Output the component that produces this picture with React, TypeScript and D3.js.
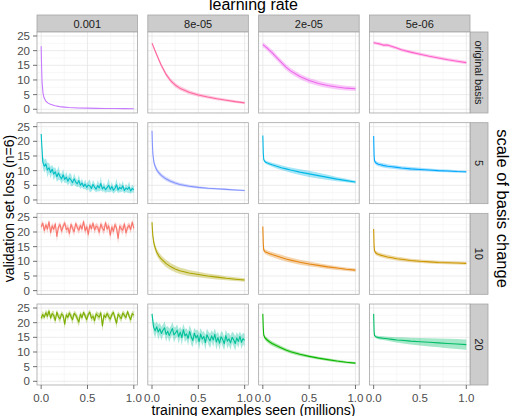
import * as d3 from 'd3';
import React from 'react';

// facet labels
const LEARNING_RATES = ['0.001', '8e-05', '2e-05', '5e-06'];
const BASIS_SCALES = ['original basis', '5', '10', '20'];
const X_TICKS = [0, 0.5, 1];
const Y_TICKS = [0, 5, 10, 15, 20, 25];

// ggplot hue palette, one colour per facet (row-major)
const COLORS = [
  ['#C77CFF', '#FF68A1', '#ED68ED', '#FF61CC'],
  ['#00BFC4', '#8494FF', '#00B8E7', '#00A9FF'],
  ['#F8766D', '#ABA300', '#E68613', '#CD9600'],
  ['#7CAE00', '#00C19A', '#0CB702', '#00BE67'],
];

// x positions (millions of examples) for the smooth curves
const SMOOTH_X = [0, 0.005, 0.01, 0.02, 0.03, 0.05, 0.075, 0.1, 0.15, 0.2, 0.25, 0.3, 0.4, 0.5, 0.6, 0.7, 0.8, 0.9, 1.0];

// original basis
const ORIG_001 = [21.5, 14, 9, 5.5, 4.0, 2.8, 2.1, 1.7, 1.2, 0.9, 0.75, 0.6, 0.45, 0.38, 0.32, 0.28, 0.25, 0.22, 0.2];
const ORIG_001_SD = [0.3, 0.4, 0.4, 0.3, 0.25, 0.2, 0.15, 0.12, 0.1, 0.08, 0.08, 0.07, 0.06, 0.06, 0.05, 0.05, 0.05, 0.05, 0.05];
const ORIG_8E05 = [22.5, 22.2, 21.8, 21.0, 20.2, 18.7, 16.8, 15.0, 12.0, 9.8, 8.3, 7.2, 5.8, 4.9, 4.2, 3.6, 3.1, 2.6, 2.2];
const ORIG_8E05_SD = [0.4, 0.4, 0.45, 0.5, 0.5, 0.55, 0.6, 0.65, 0.7, 0.75, 0.75, 0.7, 0.65, 0.6, 0.55, 0.5, 0.45, 0.45, 0.4];
const ORIG_2E05 = [22.0, 21.9, 21.8, 21.6, 21.3, 20.8, 20.0, 19.3, 17.6, 16.0, 14.4, 13.1, 11.2, 9.8, 8.8, 8.1, 7.6, 7.2, 7.0];
const ORIG_2E05_SD = [0.8, 0.8, 0.8, 0.85, 0.9, 0.9, 0.95, 1.0, 1.0, 1.0, 1.0, 1.0, 0.95, 0.9, 0.9, 0.85, 0.85, 0.8, 0.8];
const ORIG_5E06 = [22.7, 22.7, 22.6, 22.6, 22.5, 22.4, 22.2, 21.9, 21.9, 21.4, 20.9, 20.3, 19.5, 18.8, 18.1, 17.5, 16.9, 16.4, 15.9];
const ORIG_5E06_SD = [0.5, 0.5, 0.5, 0.5, 0.5, 0.55, 0.55, 0.55, 0.55, 0.55, 0.55, 0.55, 0.55, 0.55, 0.55, 0.55, 0.55, 0.55, 0.55];

// scale 5
const S5_001 = [22.5, 13.0, 11.5, 12.3, 10.2, 11.0, 9.4, 10.5, 8.8, 9.6, 7.9, 9.2, 8.0, 7.2, 8.6, 7.0, 7.8, 6.4, 7.5, 6.8, 5.9, 7.2, 6.1, 5.5, 6.6, 5.0, 5.8, 4.6, 5.4, 4.3, 5.1, 4.8, 3.9, 5.3, 4.4, 3.7, 4.9, 4.1, 5.6, 3.8, 4.5, 3.5, 4.2, 5.0, 3.6, 4.6, 3.3, 4.0, 5.2, 3.4, 4.3, 3.8, 4.8, 3.2, 4.1, 3.6, 4.4, 3.1, 3.9, 3.5];
const S5_001_SD = [0.5, 2.0, 2.2, 1.8, 2.5, 1.6, 2.0, 1.4, 2.2, 1.5, 1.8, 2.4, 1.3, 1.7, 2.0, 1.2, 1.9, 1.5, 1.6, 2.1, 1.1, 1.8, 1.4, 1.2, 2.0, 1.3, 1.5, 1.0, 1.7, 1.2, 1.4, 2.2, 1.0, 1.6, 1.3, 1.1, 1.9, 1.2, 2.3, 1.0, 1.5, 1.1, 1.4, 2.4, 1.0, 1.6, 1.2, 1.3, 2.1, 1.0, 1.7, 1.2, 1.8, 1.0, 1.4, 1.1, 2.0, 1.0, 1.3, 1.1];
const S5_8E05 = [23.6, 18.5, 15.5, 13.0, 11.8, 10.3, 9.2, 8.4, 7.2, 6.4, 5.8, 5.3, 4.7, 4.3, 4.0, 3.8, 3.6, 3.4, 3.2];
const S5_8E05_SD = [0.3, 0.8, 1.0, 1.0, 0.9, 0.85, 0.8, 0.75, 0.7, 0.65, 0.6, 0.55, 0.45, 0.4, 0.35, 0.3, 0.3, 0.25, 0.25];
const S5_2E05 = [22.0, 16, 13.8, 13.2, 12.9, 12.6, 12.3, 12.0, 11.5, 11.0, 10.6, 10.2, 9.5, 8.9, 8.3, 7.7, 7.1, 6.6, 6.1];
const S5_2E05_SD = [0.3, 0.5, 0.5, 0.5, 0.55, 0.6, 0.65, 0.7, 0.75, 0.8, 0.85, 0.9, 1.0, 1.05, 1.0, 0.9, 0.75, 0.6, 0.45];
const S5_5E06 = [21.8, 15, 13.3, 12.8, 12.5, 12.2, 12.0, 11.8, 11.5, 11.3, 11.1, 10.9, 10.6, 10.4, 10.2, 10.0, 9.9, 9.7, 9.6];
const S5_5E06_SD = [0.3, 0.6, 0.7, 0.7, 0.7, 0.7, 0.7, 0.7, 0.7, 0.65, 0.65, 0.6, 0.6, 0.55, 0.5, 0.5, 0.45, 0.45, 0.4];

// scale 10
const S10_001 = [21.8, 23.0, 20.5, 22.4, 21.0, 23.5, 19.8, 22.1, 20.9, 22.8, 18.5, 21.7, 22.5, 20.3, 21.9, 23.1, 20.8, 21.4, 19.5, 22.6, 21.2, 20.1, 22.9, 21.5, 20.6, 22.2, 21.0, 23.6, 20.4, 21.8, 19.2, 22.4, 21.1, 23.0, 20.7, 22.0, 21.6, 19.9, 22.7, 21.3, 20.5, 23.2, 21.0, 22.1, 18.9, 21.7, 20.2, 22.5, 21.4, 17.8, 22.0, 21.1, 20.6, 22.8, 19.7, 21.5, 22.3, 20.8, 23.4, 21.2];
const S10_001_SD = [1.2, 0.9, 1.5, 1.0, 1.4, 0.8, 1.6, 1.1, 1.3, 0.9, 1.8, 1.2, 1.0, 1.5, 1.1, 0.9, 1.4, 1.2, 1.7, 1.0, 1.3, 1.5, 0.9, 1.2, 1.4, 1.0, 1.3, 0.8, 1.6, 1.1, 1.8, 1.0, 1.3, 0.9, 1.5, 1.1, 1.2, 1.6, 1.0, 1.3, 1.5, 0.9, 1.4, 1.1, 1.9, 1.2, 1.5, 1.0, 1.3, 2.0, 1.1, 1.3, 1.5, 0.9, 1.7, 1.2, 1.0, 1.4, 0.9, 1.2];
const S10_8E05 = [23.3, 20.5, 18.5, 16.3, 15.0, 13.2, 11.8, 10.8, 9.3, 8.2, 7.4, 6.8, 6.0, 5.5, 5.0, 4.6, 4.2, 3.9, 3.6];
const S10_8E05_SD = [0.4, 0.8, 1.0, 1.1, 1.2, 1.2, 1.2, 1.2, 1.2, 1.2, 1.15, 1.1, 1.0, 0.95, 0.85, 0.8, 0.7, 0.65, 0.6];
const S10_2E05 = [21.9, 16, 13.9, 13.4, 13.2, 12.9, 12.6, 12.3, 11.8, 11.3, 10.8, 10.4, 9.7, 9.1, 8.6, 8.1, 7.7, 7.3, 7.0];
const S10_2E05_SD = [0.3, 0.6, 0.7, 0.75, 0.8, 0.8, 0.85, 0.85, 0.9, 0.9, 0.9, 0.9, 0.85, 0.8, 0.75, 0.7, 0.65, 0.6, 0.55];
const S10_5E06 = [21.0, 15, 13.5, 13.0, 12.7, 12.4, 12.1, 11.9, 11.5, 11.2, 10.9, 10.7, 10.3, 10.0, 9.8, 9.6, 9.5, 9.4, 9.3];
const S10_5E06_SD = [0.3, 0.6, 0.7, 0.7, 0.7, 0.7, 0.7, 0.7, 0.7, 0.7, 0.65, 0.65, 0.6, 0.6, 0.55, 0.55, 0.5, 0.5, 0.5];

// scale 20
const S20_001 = [21.5, 22.8, 21.9, 23.4, 22.2, 24.0, 21.6, 23.1, 22.5, 20.8, 23.6, 22.0, 21.3, 23.0, 22.4, 19.5, 22.7, 21.8, 23.3, 22.1, 21.0, 23.2, 22.6, 21.4, 20.2, 22.9, 21.7, 23.5, 22.3, 21.1, 22.8, 23.6, 21.5, 22.2, 20.7, 23.0, 22.4, 21.9, 23.4, 18.9, 22.6, 21.8, 23.1, 22.0, 21.2, 22.7, 23.5, 21.6, 19.8, 22.9, 22.1, 21.4, 23.3, 22.5, 21.7, 23.8, 22.2, 21.0, 23.1, 22.6];
const S20_001_SD = [1.0, 1.3, 0.9, 1.1, 1.4, 0.8, 1.2, 1.0, 1.5, 1.3, 0.9, 1.2, 1.4, 1.0, 1.1, 1.7, 0.9, 1.3, 1.0, 1.2, 1.5, 0.9, 1.1, 1.3, 1.6, 1.0, 1.2, 0.8, 1.1, 1.4, 1.0, 0.9, 1.3, 1.1, 1.5, 1.0, 1.2, 1.3, 0.9, 1.9, 1.1, 1.2, 1.0, 1.3, 1.4, 1.0, 0.9, 1.2, 1.7, 1.0, 1.1, 1.3, 0.9, 1.2, 1.0, 0.8, 1.1, 1.4, 1.0, 1.1];
const S20_8E05 = [23.0, 18.5, 17.2, 18.6, 16.8, 17.9, 16.3, 17.5, 18.2, 16.0, 17.1, 15.6, 16.9, 18.0, 15.8, 16.5, 17.4, 15.2, 16.8, 14.9, 17.6, 15.5, 16.2, 14.6, 17.0, 15.1, 13.9, 16.4, 14.8, 15.7, 13.5, 16.1, 14.4, 15.3, 13.2, 15.9, 14.7, 13.8, 15.5, 14.1, 16.0, 13.4, 14.9, 13.0, 15.2, 14.3, 12.8, 15.6, 13.7, 14.5, 13.1, 15.0, 14.2, 12.9, 14.8, 13.6, 15.3, 13.3, 14.6, 14.0];
const S20_8E05_SD = [0.5, 2.0, 2.4, 1.8, 2.6, 2.0, 2.3, 1.9, 2.2, 2.5, 1.8, 2.4, 2.0, 2.2, 2.6, 1.9, 2.1, 2.5, 1.8, 2.7, 2.0, 2.3, 1.9, 2.4, 2.1, 2.6, 2.2, 1.9, 2.5, 2.0, 2.8, 2.1, 2.3, 1.9, 2.6, 2.0, 2.2, 2.5, 1.9, 2.4, 2.1, 2.7, 2.0, 2.3, 1.9, 2.5, 2.2, 2.0, 2.6, 2.1, 2.4, 1.9, 2.3, 2.5, 2.0, 2.2, 1.8, 2.4, 2.0, 2.1];
const S20_2E05 = [23.0, 18, 15.8, 15.0, 14.6, 14.0, 13.4, 12.9, 12.1, 11.4, 10.7, 10.1, 9.2, 8.5, 7.9, 7.4, 6.9, 6.5, 6.2];
const S20_2E05_SD = [0.3, 0.6, 0.7, 0.75, 0.8, 0.8, 0.8, 0.75, 0.7, 0.65, 0.6, 0.6, 0.55, 0.5, 0.5, 0.45, 0.45, 0.4, 0.4];
const S20_5E06 = [23.0, 17, 15.6, 15.3, 15.1, 14.9, 14.8, 14.7, 14.5, 14.3, 14.1, 14.0, 13.7, 13.5, 13.3, 13.1, 12.9, 12.7, 12.5];
const S20_5E06_SD = [0.3, 0.4, 0.4, 0.45, 0.5, 0.55, 0.6, 0.65, 0.7, 0.8, 0.9, 1.0, 1.15, 1.3, 1.4, 1.5, 1.6, 1.7, 1.75];

type Series = { x: number[]; mean: number[]; sd: number[] };

// noisy runs are sampled evenly over the training run
const evenX = (n: number) => d3.range(n).map((i) => i / (n - 1));
const smooth = (mean: number[], sd: number[]): Series => ({ x: SMOOTH_X, mean, sd });
const noisy = (mean: number[], sd: number[]): Series => ({ x: evenX(mean.length), mean, sd });

const PANELS: Series[][] = [
  [smooth(ORIG_001, ORIG_001_SD), smooth(ORIG_8E05, ORIG_8E05_SD), smooth(ORIG_2E05, ORIG_2E05_SD), smooth(ORIG_5E06, ORIG_5E06_SD)],
  [noisy(S5_001, S5_001_SD), smooth(S5_8E05, S5_8E05_SD), smooth(S5_2E05, S5_2E05_SD), smooth(S5_5E06, S5_5E06_SD)],
  [noisy(S10_001, S10_001_SD), smooth(S10_8E05, S10_8E05_SD), smooth(S10_2E05, S10_2E05_SD), smooth(S10_5E06, S10_5E06_SD)],
  [noisy(S20_001, S20_001_SD), noisy(S20_8E05, S20_8E05_SD), smooth(S20_2E05, S20_2E05_SD), smooth(S20_5E06, S20_5E06_SD)],
];

const W = 514;
const H = 416;
const plot = { left: 37, right: 470, top: 32, bottom: 385 };
const gapX = 10.3;
const gapY = 9.7;
const panelW = (plot.right - plot.left - 3 * gapX) / 4;
const panelH = (plot.bottom - plot.top - 3 * gapY) / 4;
const stripH = 17;
const stripW = 18;
const font = '"Liberation Sans", Arial, Helvetica, sans-serif';

const x = d3.scaleLinear().domain([-0.045, 1.04]).range([0, panelW]);
const y = d3.scaleLinear().domain([-1.26, 26.36]).range([panelH, 0]);

const minorX = [0.25, 0.75];
const minorY = [2.5, 7.5, 12.5, 17.5, 22.5];

const Panel: React.FC<{ s: Series; color: string; id: string }> = ({ s, color, id }) => {
  const idx = d3.range(s.x.length);
  const area = d3.area<number>()
    .x((i) => x(s.x[i]))
    .y0((i) => y(s.mean[i] - s.sd[i]))
    .y1((i) => y(s.mean[i] + s.sd[i]));
  const line = d3.line<number>()
    .x((i) => x(s.x[i]))
    .y((i) => y(s.mean[i]));
  return (
    <g>
      <clipPath id={id}>
        <rect width={panelW} height={panelH} />
      </clipPath>
      <rect width={panelW} height={panelH} fill="white" />
      {minorX.map((v) => (
        <line key={'mx' + v} x1={x(v)} x2={x(v)} y1={0} y2={panelH} stroke="#F4F4F4" strokeWidth={0.6} />
      ))}
      {minorY.map((v) => (
        <line key={'my' + v} x1={0} x2={panelW} y1={y(v)} y2={y(v)} stroke="#F4F4F4" strokeWidth={0.6} />
      ))}
      {X_TICKS.map((v) => (
        <line key={'gx' + v} x1={x(v)} x2={x(v)} y1={0} y2={panelH} stroke="#E6E6E6" strokeWidth={0.8} />
      ))}
      {Y_TICKS.map((v) => (
        <line key={'gy' + v} x1={0} x2={panelW} y1={y(v)} y2={y(v)} stroke="#E6E6E6" strokeWidth={0.8} />
      ))}
      <g clipPath={`url(#${id})`}>
        <path d={area(idx) || ''} fill={color} fillOpacity={0.35} stroke="none" />
        <path d={line(idx) || ''} fill="none" stroke={color} strokeWidth={1.1} strokeLinejoin="round" />
      </g>
      <rect width={panelW} height={panelH} fill="none" stroke="#A6A6A6" strokeWidth={0.8} />
    </g>
  );
};

export default function App() {
  const px = (c: number) => plot.left + c * (panelW + gapX);
  const py = (r: number) => plot.top + r * (panelH + gapY);
  return (
    <svg width={W} height={H} style={{ position: 'absolute', left: 0, top: 0, background: 'white' }} fontFamily={font}>
      {/* top strips */}
      {LEARNING_RATES.map((lr, c) => (
        <g key={lr} transform={`translate(${px(c)},${plot.top - stripH})`}>
          <rect width={panelW} height={stripH} fill="#CCCCCC" stroke="#A6A6A6" strokeWidth={0.8} />
          <text x={panelW / 2} y={stripH / 2 + 4} textAnchor="middle" fontSize={11} fill="#1A1A1A">{lr}</text>
        </g>
      ))}
      {/* right strips */}
      {BASIS_SCALES.map((b, r) => (
        <g key={b} transform={`translate(${plot.right},${py(r)})`}>
          <rect width={stripW} height={panelH} fill="#CCCCCC" stroke="#A6A6A6" strokeWidth={0.8} />
          <text transform={`translate(${stripW / 2 - 4},${panelH / 2}) rotate(90)`} textAnchor="middle" fontSize={11} fill="#1A1A1A">{b}</text>
        </g>
      ))}
      {PANELS.map((row, r) =>
        row.map((s, c) => (
          <g key={`${r}-${c}`} transform={`translate(${px(c)},${py(r)})`}>
            <Panel s={s} color={COLORS[r][c]} id={`clip-${r}-${c}`} />
          </g>
        ))
      )}
      {/* y axes */}
      {BASIS_SCALES.map((b, r) => (
        <g key={'ya' + b} transform={`translate(${plot.left},${py(r)})`}>
          {Y_TICKS.map((v) => (
            <g key={v} transform={`translate(0,${y(v)})`}>
              <line x1={-4} x2={0} stroke="#4D4D4D" strokeWidth={0.8} />
              <text x={-7} y={4} textAnchor="end" fontSize={11.5} fill="#4D4D4D">{v}</text>
            </g>
          ))}
        </g>
      ))}
      {/* x axes */}
      {LEARNING_RATES.map((lr, c) => (
        <g key={'xa' + lr} transform={`translate(${px(c)},${plot.bottom})`}>
          {X_TICKS.map((v) => (
            <g key={v} transform={`translate(${x(v)},0)`}>
              <line y1={0} y2={4} stroke="#4D4D4D" strokeWidth={0.8} />
              <text y={16.5} textAnchor="middle" fontSize={11.5} fill="#4D4D4D">{d3.format('.1f')(v)}</text>
            </g>
          ))}
        </g>
      ))}
      {/* titles */}
      <text x={(plot.left + plot.right) / 2} y={10} textAnchor="middle" fontSize={16} fill="#000">learning rate</text>
      <text x={(plot.left + plot.right) / 2} y={415} textAnchor="middle" fontSize={14} fill="#000">training examples seen (millions)</text>
      <text transform={`translate(14,${(plot.top + plot.bottom) / 2}) rotate(-90)`} textAnchor="middle" fontSize={14} fill="#000">validation set loss (n=6)</text>
      <text transform={`translate(497,${(plot.top + plot.bottom) / 2}) rotate(90)`} textAnchor="middle" fontSize={16.5} fill="#000">scale of basis change</text>
    </svg>
  );
}
